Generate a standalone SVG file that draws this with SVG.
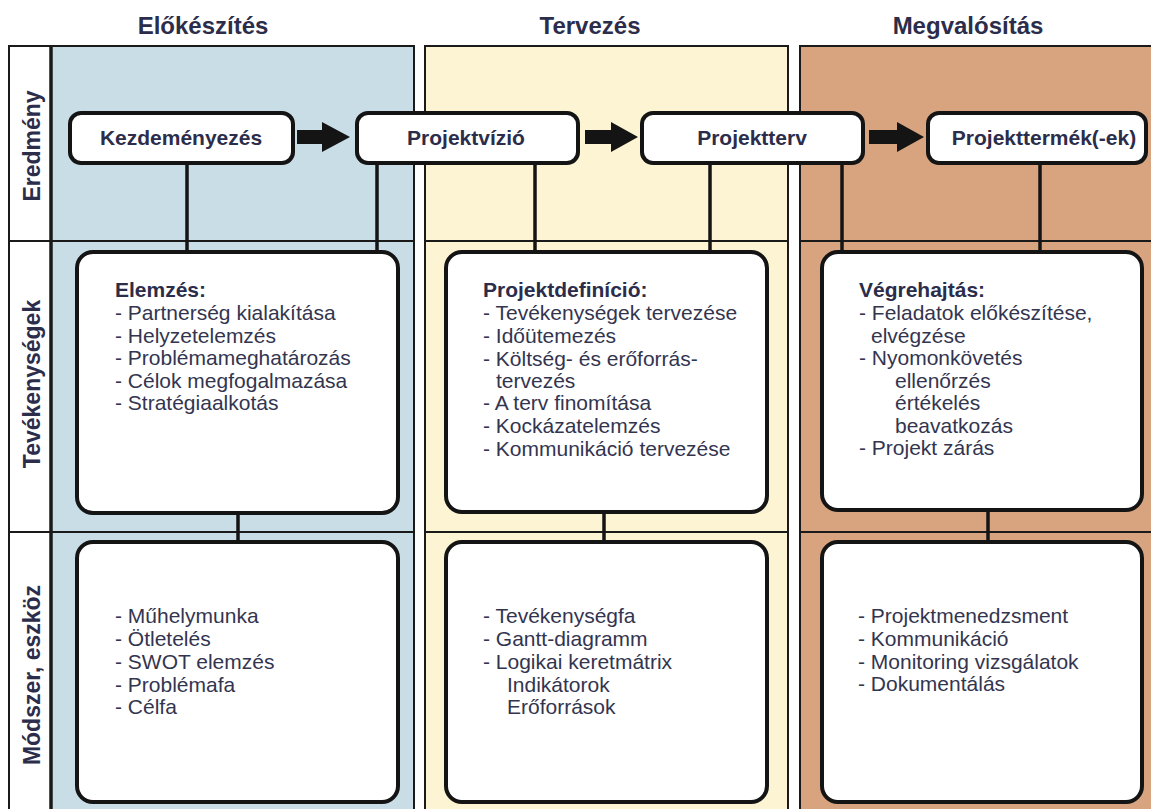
<svg xmlns="http://www.w3.org/2000/svg" width="1151" height="809" viewBox="0 0 1151 809">
<style>
.hdr{font-family:"Liberation Sans",Arial,sans-serif;font-weight:bold;font-size:24px;fill:#2b2d4a;text-anchor:middle}
.row{font-family:"Liberation Sans",Arial,sans-serif;font-weight:bold;font-size:23px;fill:#2b2d4a;text-anchor:middle}
.lbl{font-family:"Liberation Sans",Arial,sans-serif;font-weight:bold;font-size:21px;fill:#2b2d4a;text-anchor:middle}
.body{font-family:"Liberation Sans",Arial,sans-serif;font-size:21px;fill:#33354f}
.ttl{font-weight:bold;fill:#2b2d4a}
.panel{stroke:#1a1a1a;stroke-width:2}
.div{stroke:#1a1a1a;stroke-width:2}
.box{fill:#ffffff;stroke:#141414;stroke-width:4}
.con{stroke:#141414;stroke-width:3.5;fill:none}
.arr{fill:#141414}
</style>
<rect width="1151" height="809" fill="#ffffff"/>
<!-- headers -->
<text class="hdr" x="203" y="34">Előkészítés</text>
<text class="hdr" x="590" y="34">Tervezés</text>
<text class="hdr" x="968" y="34">Megvalósítás</text>
<!-- panels -->
<g id="panels">
<rect class="panel" x="9" y="46" width="42" height="790" fill="#ffffff"/>
<rect class="panel" x="51" y="46" width="363" height="790" fill="#c8dde6"/>
<rect class="panel" x="425" y="46" width="363" height="790" fill="#fcf4d2"/>
<rect class="panel" x="800" y="46" width="380" height="790" fill="#d8a47f"/>
<line x1="51" y1="46" x2="51" y2="836" stroke="#1a1a1a" stroke-width="3.5"/>
<line class="div" x1="9" y1="241" x2="414" y2="241"/>
<line class="div" x1="425" y1="241" x2="788" y2="241"/>
<line class="div" x1="800" y1="241" x2="1151" y2="241"/>
<line class="div" x1="9" y1="532" x2="414" y2="532"/>
<line class="div" x1="425" y1="532" x2="788" y2="532"/>
<line class="div" x1="800" y1="532" x2="1151" y2="532"/>
</g>
<!-- row labels -->
<text class="row" transform="translate(40,146) rotate(-90)">Eredmény</text>
<text class="row" transform="translate(40,384) rotate(-90)">Tevékenységek</text>
<text class="row" transform="translate(40,675) rotate(-90)">Módszer, eszköz</text>
<!-- connectors -->
<g id="connectors">
<line class="con" x1="187" y1="163" x2="187" y2="252"/>
<line class="con" x1="377" y1="163" x2="377" y2="252"/>
<line class="con" x1="535" y1="163" x2="535" y2="252"/>
<line class="con" x1="710" y1="163" x2="710" y2="252"/>
<line class="con" x1="842" y1="163" x2="842" y2="252"/>
<line class="con" x1="1040" y1="163" x2="1040" y2="252"/>
<line class="con" x1="238" y1="513" x2="238" y2="542"/>
<line class="con" x1="604" y1="512" x2="604" y2="542"/>
<line class="con" x1="988" y1="510" x2="988" y2="542"/>
<polygon class="arr" points="297,130 322,130 322,122 350,137 322,152 322,144 297,144"/>
<polygon class="arr" points="585,130 611,130 611,122 638,137 611,152 611,144 585,144"/>
<polygon class="arr" points="869,130 897,130 897,122 924,137 897,152 897,144 869,144"/>
</g>
<!-- result nodes -->
<g id="kezdemenyezes">
<rect class="box" x="70" y="113" width="223" height="50" rx="11"/>
<text class="lbl" x="181" y="145">Kezdeményezés</text>
</g>
<g id="projektvizio">
<rect class="box" x="357" y="113" width="221" height="50" rx="11"/>
<text class="lbl" x="466" y="145">Projektvízió</text>
</g>
<g id="projektterv">
<rect class="box" x="642" y="113" width="221" height="50" rx="11"/>
<text class="lbl" x="752" y="145">Projektterv</text>
</g>
<g id="projekttermek">
<rect class="box" x="928" y="113" width="218" height="50" rx="11"/>
<text class="lbl" x="1044" y="145">Projekttermék(-ek)</text>
</g>
<!-- activity nodes -->
<g id="elemzes">
<rect class="box" x="77" y="252" width="321" height="261" rx="16"/>
<text class="body"><tspan class="ttl" x="115" y="297">Elemzés:</tspan><tspan x="115" y="320">- Partnerség kialakítása</tspan><tspan x="115" y="342.5">- Helyzetelemzés</tspan><tspan x="115" y="365">- Problémameghatározás</tspan><tspan x="115" y="387.5">- Célok megfogalmazása</tspan><tspan x="115" y="410">- Stratégiaalkotás</tspan></text>
</g>
<g id="projektdefinicio">
<rect class="box" x="446" y="252" width="321" height="260" rx="16"/>
<text class="body"><tspan class="ttl" x="483" y="297">Projektdefiníció:</tspan><tspan x="483" y="320">- Tevékenységek tervezése</tspan><tspan x="483" y="343">- Időütemezés</tspan><tspan x="483" y="366">- Költség- és erőforrás-</tspan><tspan x="496" y="388">tervezés</tspan><tspan x="483" y="410">- A terv finomítása</tspan><tspan x="483" y="433">- Kockázatelemzés</tspan><tspan x="483" y="456">- Kommunikáció tervezése</tspan></text>
</g>
<g id="vegrehajtas">
<rect class="box" x="822" y="252" width="320" height="258" rx="16"/>
<text class="body"><tspan class="ttl" x="859" y="297">Végrehajtás:</tspan><tspan x="859" y="320">- Feladatok előkészítése,</tspan><tspan x="871" y="343">elvégzése</tspan><tspan x="859" y="365">- Nyomonkövetés</tspan><tspan x="895" y="388">ellenőrzés</tspan><tspan x="895" y="410">értékelés</tspan><tspan x="895" y="433">beavatkozás</tspan><tspan x="859" y="455">- Projekt zárás</tspan></text>
</g>
<!-- method nodes -->
<g id="modszer1">
<rect class="box" x="77" y="542" width="321" height="260" rx="16"/>
<text class="body"><tspan x="115" y="623">- Műhelymunka</tspan><tspan x="115" y="646">- Ötletelés</tspan><tspan x="115" y="669">- SWOT elemzés</tspan><tspan x="115" y="692">- Problémafa</tspan><tspan x="115" y="714">- Célfa</tspan></text>
</g>
<g id="modszer2">
<rect class="box" x="446" y="542" width="321" height="260" rx="16"/>
<text class="body"><tspan x="483" y="623">- Tevékenységfa</tspan><tspan x="483" y="646">- Gantt-diagramm</tspan><tspan x="483" y="669">- Logikai keretmátrix</tspan><tspan x="507" y="692">Indikátorok</tspan><tspan x="507" y="714">Erőforrások</tspan></text>
</g>
<g id="modszer3">
<rect class="box" x="822" y="542" width="320" height="260" rx="16"/>
<text class="body"><tspan x="858" y="623">- Projektmenedzsment</tspan><tspan x="858" y="646">- Kommunikáció</tspan><tspan x="858" y="669">- Monitoring vizsgálatok</tspan><tspan x="858" y="691">- Dokumentálás</tspan></text>
</g>
</svg>
